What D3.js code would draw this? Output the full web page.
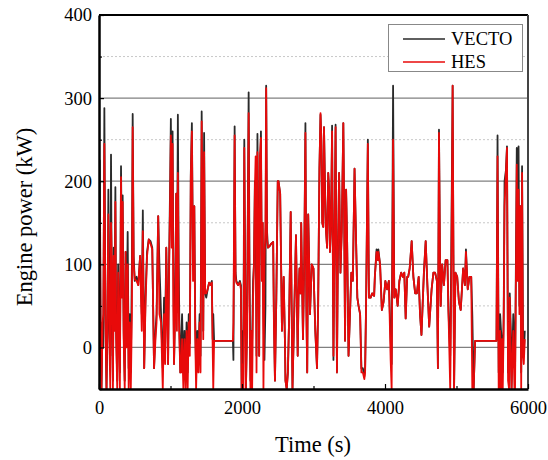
<!DOCTYPE html>
<html><head><meta charset="utf-8">
<script src="https://cdn.jsdelivr.net/npm/d3@7"></script>
<style>body{margin:0;background:#fff} text{font-family:"Liberation Serif","Times New Roman",serif;fill:#000}</style>
</head><body><svg id="c" width="548" height="460"></svg>
<script>
const time = [0,10,25,35,50,60,75,90,105,118,131,145,158,168,180,195,206,218,229,240,255,268,280,292,308,320,331,345,360,372,385,401,415,430,445,460,471,485,500,525,549,575,598,613,632,650,672,696,720,745,770,790,805,828,845,868,892,910,925,941,955,966,980,995,1005,1017,1029,1040,1049,1065,1080,1090,1103,1115,1125,1137,1150,1162,1180,1195,1211,1225,1240,1255,1270,1284,1299,1315,1333,1345,1358,1375,1390,1407,1420,1436,1448,1458,1470,1485,1500,1520,1540,1560,1578,1590,1598,1610,1873,1880,1897,1910,1921,1946,1970,1985,1995,2010,2020,2032,2044,2055,2070,2093,2105,2118,2130,2142,2155,2167,2180,2191,2203,2216,2228,2240,2250,2265,2277,2289,2300,2314,2328,2338,2350,2363,2387,2410,2436,2446,2461,2480,2500,2510,2534,2559,2583,2600,2608,2625,2642,2660,2681,2706,2730,2755,2779,2790,2804,2819,2828,2853,2870,2887,2900,2912,2926,2940,2951,2976,3000,3025,3049,3065,3083,3098,3110,3123,3135,3147,3160,3172,3190,3206,3218,3230,3245,3260,3279,3290,3309,3328,3340,3358,3377,3395,3417,3430,3441,3456,3470,3490,3510,3529,3550,3574,3590,3613,3630,3652,3670,3690,3711,3722,3735,3760,3775,3799,3820,3848,3858,3882,3900,3907,3931,3956,3980,4005,4029,4054,4079,4093,4113,4130,4150,4177,4201,4226,4250,4270,4289,4310,4324,4345,4358,4373,4397,4422,4446,4471,4490,4510,4544,4569,4593,4618,4652,4677,4701,4726,4740,4755,4770,4779,4799,4824,4848,4873,4887,4912,4925,4946,4966,4985,5010,5034,5059,5093,5118,5132,5157,5181,5206,5221,5240,5260,5559,5574,5590,5598,5610,5623,5635,5647,5660,5672,5691,5706,5721,5735,5745,5760,5770,5794,5810,5819,5843,5855,5868,5880,5892,5905,5917,5930,5941,5955];
const vecto = [20,225,10,-50,30,0,288,40,-50,10,190,20,-10,232,40,-40,120,60,193,20,-40,100,30,-30,218,100,183,20,-40,115,10,139,-25,40,-30,100,281,110,80,85,75,110,40,165,-25,60,115,130,128,120,-25,20,40,158,100,40,-25,60,20,120,50,-20,100,200,275,150,260,100,-20,50,185,60,280,100,20,-30,10,40,-30,20,-20,30,-30,40,5,210,270,100,170,40,-30,20,-10,40,-10,284,150,20,258,65,60,70,78,75,80,10,40,8,8,-15,266,90,80,75,80,75,-50,20,15,250,100,-50,20,307,100,-40,20,10,80,100,200,160,-10,257,120,-10,200,260,100,150,40,-15,50,315,140,120,122,125,127,40,-40,60,200,200,185,20,85,10,-40,-50,-30,40,163,-50,40,135,-10,60,95,65,150,10,100,270,50,-30,160,100,40,100,95,20,-25,50,215,280,250,150,145,265,200,145,120,210,190,115,150,267,-15,100,268,-30,100,210,90,140,270,150,8,190,130,-10,40,90,80,215,150,60,50,40,-25,-25,-35,-25,50,250,60,60,65,62,85,118,105,118,100,45,55,80,70,80,10,-20,315,60,70,50,80,90,85,90,35,85,85,95,110,128,85,65,65,85,40,15,90,128,75,25,70,90,90,80,-25,262,100,50,100,75,105,105,45,-10,100,315,-50,90,85,55,45,95,75,118,70,85,85,40,-50,8,8,255,-30,-30,40,20,10,-30,40,200,213,242,-30,20,65,20,-50,40,10,-30,240,100,242,50,170,-30,218,20,-10,20];
const hes = [120,178,-10,-50,30,40,245,30,-50,40,160,10,-50,150,100,-50,110,20,175,10,-50,90,20,-50,205,60,175,10,-50,115,0,100,-50,30,-50,40,265,100,82,80,75,110,20,140,-25,50,110,130,125,118,-25,10,30,158,40,30,-50,40,-20,120,30,-20,90,180,255,120,245,50,-20,40,185,20,210,50,10,-30,-30,10,-50,10,-50,20,-50,30,-10,205,260,80,170,20,-50,10,-30,30,-30,272,150,10,235,65,65,70,78,75,78,0,-50,8,8,30,255,85,78,75,78,70,-50,-20,-50,240,60,-50,20,282,50,-50,20,-50,60,100,190,230,-30,235,100,-10,230,252,80,150,-50,100,150,312,130,120,122,125,127,30,-40,60,200,200,185,20,85,10,-40,-50,-30,40,163,-50,40,135,-10,60,95,65,150,10,100,258,50,-30,160,100,40,100,95,20,-25,50,215,282,250,150,145,265,190,145,120,210,190,115,150,260,-10,100,265,-30,100,210,90,140,270,150,8,190,130,-10,40,90,80,215,150,60,50,40,-30,-30,-38,-30,50,245,60,60,65,62,85,115,105,115,100,45,55,80,70,80,-15,-50,250,60,70,50,80,90,85,90,35,85,85,95,110,128,85,65,65,85,40,15,90,128,75,25,70,90,90,80,-25,258,100,50,100,75,105,105,45,-50,50,315,-50,90,85,55,45,95,75,115,70,85,85,-50,-50,8,8,230,-50,-50,20,-50,10,-50,30,170,210,240,-40,-50,60,-10,-50,20,-50,-50,220,80,190,40,170,-50,210,-10,-20,10];
const xTicks = [0,2000,4000,6000];
const xMinor = [1000,3000,5000];
const yTicks = [0,100,200,300,400];
const yMinor = [-50,50,150,250,350];
const seriesNames = ["VECTO","HES"];
const seriesColors = ["#2a2a2a","#e80a0a"];

const svg = d3.select("#c");
const L=99, R=528, T=15, B=389;
const x = d3.scaleLinear().domain([0,6000]).range([L,R]);
const y = d3.scaleLinear().domain([-50,400]).range([B,T]);

svg.append("g").selectAll("line").data([50,150,250,350]).join("line")
  .attr("x1",L).attr("x2",R).attr("y1",d=>y(d)).attr("y2",d=>y(d))
  .attr("stroke","#c8c8c8").attr("stroke-width",1).attr("stroke-dasharray","2,2");
svg.append("g").selectAll("line").data([0,100,200,300]).join("line")
  .attr("x1",L).attr("x2",R).attr("y1",d=>y(d)).attr("y2",d=>y(d))
  .attr("stroke","#808080").attr("stroke-width",1.2);

svg.append("clipPath").attr("id","clip").append("rect")
  .attr("x",L).attr("y",T).attr("width",R-L).attr("height",B-T);

const line = d3.line().x((d,i)=>x(time[i])).y(d=>y(d));
const g = svg.append("g").attr("clip-path","url(#clip)");
g.append("path").datum(vecto).attr("d",line).attr("fill","none")
  .attr("stroke",seriesColors[0]).attr("stroke-width",1.8).attr("stroke-linejoin","round");
g.append("path").datum(hes).attr("d",line).attr("fill","none")
  .attr("stroke",seriesColors[1]).attr("stroke-width",1.8).attr("stroke-linejoin","round");

svg.append("line").attr("x1",L).attr("x2",R).attr("y1",T).attr("y2",T).attr("stroke","#000").attr("stroke-width",2);
svg.append("line").attr("x1",R).attr("x2",R).attr("y1",T).attr("y2",B).attr("stroke","#444").attr("stroke-width",2);

const fmt = d3.format("d");
svg.append("g").attr("transform",`translate(0,${B})`)
  .call(d3.axisBottom(x).tickValues(xTicks).tickFormat(fmt).tickSize(-5).tickPadding(12).tickSizeOuter(0));
svg.append("g").attr("transform",`translate(0,${B})`)
  .call(d3.axisBottom(x).tickValues(xMinor).tickSize(-3).tickFormat("").tickSizeOuter(0))
  .call(g=>g.select(".domain").remove());
svg.append("g").attr("transform",`translate(${L},0)`)
  .call(d3.axisLeft(y).tickValues(yTicks).tickFormat(fmt).tickSize(-5).tickPadding(7).tickSizeOuter(0));
svg.append("g").attr("transform",`translate(${L},0)`)
  .call(d3.axisLeft(y).tickValues(yMinor).tickSize(-3).tickFormat("").tickSizeOuter(0))
  .call(g=>g.select(".domain").remove());
svg.selectAll(".tick line").attr("stroke","#000").attr("stroke-width",1.2);
svg.selectAll(".domain").attr("stroke","#000").attr("stroke-width",2.5);
svg.selectAll(".tick text").attr("font-family","Liberation Serif").attr("font-size",18.5).attr("fill","#000");

svg.append("text").attr("x",313).attr("y",452).attr("text-anchor","middle")
  .attr("font-size",22.5).text("Time (s)");
svg.append("text").attr("transform","translate(32,217) rotate(-90)").attr("text-anchor","middle")
  .attr("font-size",22.5).text("Engine power (kW)");

const lg = svg.append("g");
lg.append("rect").attr("x",388.5).attr("y",24.5).attr("width",134).attr("height",47)
  .attr("fill","#fff").attr("stroke","#888").attr("stroke-width",1);
seriesNames.forEach((n,i)=>{
  const yy = 39 + i*23;
  lg.append("line").attr("x1",403).attr("x2",445).attr("y1",yy).attr("y2",yy)
    .attr("stroke",seriesColors[i]).attr("stroke-width",1.6);
  lg.append("text").attr("x",451).attr("y",yy).attr("dy","0.34em").attr("font-size",18.5).text(n);
});
</script></body></html>
